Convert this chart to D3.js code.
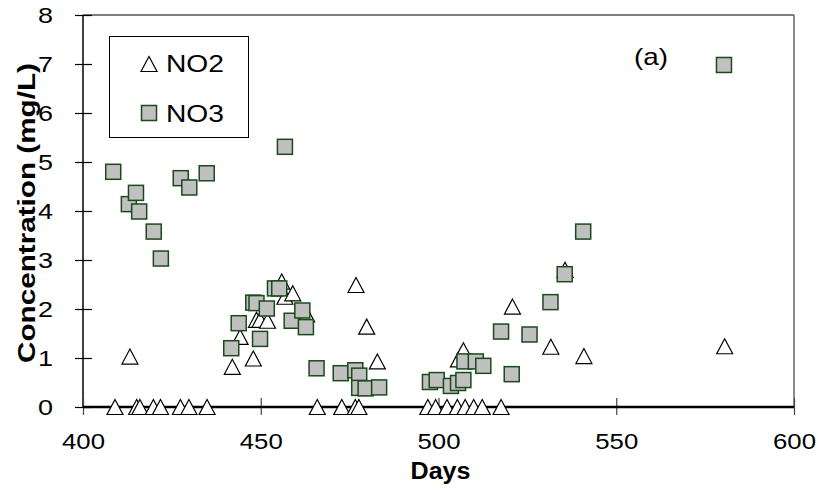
<!DOCTYPE html>
<html><head><meta charset="utf-8">
<script src="https://cdn.jsdelivr.net/npm/d3@7"></script>
<style>html,body{margin:0;padding:0;background:#fff;} svg{display:block;font-family:"Liberation Sans",Arial,sans-serif;}</style>
</head><body>
<svg id="chart" width="818" height="497"></svg>
<script>
// NO2 (triangles)
const no2Days = [409,415.1,416,419.8,421.8,427.4,429.8,434.9,465.9,472.8,476.6,477.6,497.0,499.2,502.4,505.3,507.5,509.9,512.3,517.6,
  413.2,442.0,444.2,447.9,448.8,449.8,451.9,455.9,456.8,459.0,462.9,476.8,479.8,482.8,505.6,507.0,520.8,531.6,535.6,540.9,580.5];
const no2Vals = [0,0,0,0,0,0,0,0,0,0,0,0,0,0,0,0,0,0,0,0,
  1.03,0.82,1.43,0.99,1.78,1.78,1.76,2.56,2.25,2.32,1.89,2.49,1.64,0.93,0.97,1.16,2.05,1.23,2.80,1.04,1.24];
// NO3 (squares)
const no3Days = [408.5,412.9,414.9,415.8,419.9,421.9,427.5,429.9,434.8,441.7,443.8,447.9,448.8,449.8,451.7,454.0,455.2,456.8,458.7,461.7,
  462.7,465.7,472.5,476.6,477.7,477.7,479.5,483.3,497.6,499.5,503.5,505.5,507.0,507.3,510.5,512.6,517.6,520.6,525.6,531.5,535.5,540.7,580.3];
const no3Vals = [4.80,4.14,4.37,3.99,3.58,3.03,4.67,4.48,4.77,1.20,1.71,2.13,2.12,1.39,2.01,2.42,2.42,5.31,1.76,1.97,
  1.63,0.79,0.69,0.75,0.64,0.39,0.38,0.40,0.51,0.55,0.43,0.49,0.55,0.93,0.93,0.84,1.54,0.67,1.48,2.14,2.71,3.58,6.98];
const xTicks = [400,450,500,550,600];
const yTicks = [0,1,2,3,4,5,6,7,8];
const seriesNames = ["NO2","NO3"];

const svg = d3.select("#chart");
const L = 83, R = 794, T = 15, B = 407;
const x = d3.scaleLinear().domain([400,600]).range([L,R]);
const y = d3.scaleLinear().domain([0,8]).range([B,T]);

// frame (top & right)
svg.append("line").attr("x1",L).attr("x2",R).attr("y1",T).attr("y2",T).attr("stroke","#555").attr("stroke-width",1.5);
svg.append("line").attr("x1",R).attr("x2",R).attr("y1",T).attr("y2",B).attr("stroke","#666").attr("stroke-width",1.5);

// y axis
const yAxis = d3.axisLeft(y).tickValues(yTicks).tickSize(0).tickPadding(0).tickFormat(d3.format("d"));
const gy = svg.append("g").attr("transform",`translate(${L},0)`).call(yAxis);
gy.select(".domain").remove();
gy.selectAll(".tick text").attr("x",-30).attr("font-size",22).attr("fill","#000")
  .attr("font-family","Liberation Sans, Arial, sans-serif")
  .attr("textLength",15).attr("lengthAdjust","spacingAndGlyphs");
gy.selectAll(".tick").append("line").attr("x1",-8).attr("x2",9).attr("stroke","#000").attr("stroke-width",1.2);
svg.append("line").attr("x1",L).attr("x2",L).attr("y1",T).attr("y2",B).attr("stroke","#000").attr("stroke-width",1.5);

// x axis
const xAxis = d3.axisBottom(x).tickValues(xTicks).tickSize(0).tickPadding(0).tickFormat(d3.format("d"));
const gx = svg.append("g").attr("transform",`translate(0,${B})`).call(xAxis);
gx.select(".domain").remove();
gx.selectAll(".tick text").attr("y",26).attr("dy","0.71em").attr("font-size",22).attr("fill","#000")
  .attr("font-family","Liberation Sans, Arial, sans-serif")
  .attr("textLength",43).attr("lengthAdjust","spacingAndGlyphs");
gx.selectAll(".tick").append("line").attr("y1",-9).attr("y2",8).attr("stroke","#444").attr("stroke-width",1.2);
svg.append("line").attr("x1",L).attr("x2",R).attr("y1",B).attr("y2",B).attr("stroke","#000").attr("stroke-width",2.5);

// axis titles
svg.append("text").attr("x",(L+R)/2+2).attr("y",479).attr("text-anchor","middle")
  .attr("font-size",23).attr("font-weight","bold")
  .attr("textLength",60).attr("lengthAdjust","spacingAndGlyphs").text("Days");
svg.append("text").attr("transform",`translate(35,${(T+B)/2+2}) rotate(-90)`).attr("text-anchor","middle")
  .attr("font-size",23).attr("font-weight","bold")
  .attr("textLength",300).attr("lengthAdjust","spacingAndGlyphs").text("Concentration (mg/L)");

// markers
const tw = 16, th = 15, sq = 15;
function triPath(cx, cy){
  return `M${cx},${cy-th/2}L${cx+tw/2},${cy+th/2}L${cx-tw/2},${cy+th/2}Z`;
}
const no2 = no2Days.map((d,i)=>({d, v:no2Vals[i]}));
const no3 = no3Days.map((d,i)=>({d, v:no3Vals[i]}));
svg.append("g").selectAll("path").data(no2).join("path")
  .attr("d", p => triPath(x(p.d), y(p.v)))
  .attr("fill","#fff").attr("stroke","#000").attr("stroke-width",1.2);
svg.append("g").selectAll("rect").data(no3).join("rect")
  .attr("x", p => x(p.d)-sq/2).attr("y", p => y(p.v)-sq/2)
  .attr("width",sq).attr("height",sq)
  .attr("fill","#c0c0c0").attr("stroke","#1a4a1a").attr("stroke-width",1.5);

// legend
const lg = svg.append("g");
lg.append("rect").attr("x",109.5).attr("y",36.5).attr("width",139).attr("height",101)
  .attr("fill","#fff").attr("stroke","#000").attr("stroke-width",1);
lg.append("path").attr("d", triPath(149,64)).attr("fill","#fff").attr("stroke","#000").attr("stroke-width",1.2);
lg.append("rect").attr("x",149-sq/2).attr("y",113-sq/2).attr("width",sq).attr("height",sq)
  .attr("fill","#c0c0c0").attr("stroke","#1a4a1a").attr("stroke-width",1.5);
lg.append("text").attr("x",166).attr("y",72).attr("font-size",24)
  .attr("textLength",58).attr("lengthAdjust","spacingAndGlyphs").text(seriesNames[0]);
lg.append("text").attr("x",166).attr("y",122).attr("font-size",24)
  .attr("textLength",58).attr("lengthAdjust","spacingAndGlyphs").text(seriesNames[1]);

// panel label
svg.append("text").attr("x",651).attr("y",65).attr("text-anchor","middle").attr("font-size",24)
  .attr("textLength",34).attr("lengthAdjust","spacingAndGlyphs").text("(a)");
</script>
</body></html>
